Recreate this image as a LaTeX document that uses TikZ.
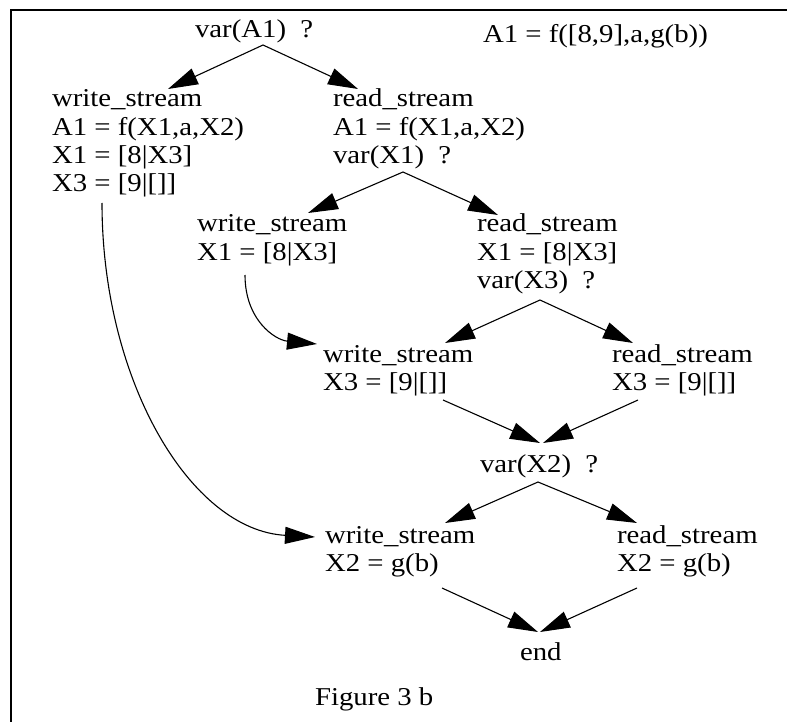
\documentclass[tikz,border=0pt]{standalone}
\usepackage{fontspec}
\setmainfont[FakeStretch=1.12]{Liberation Serif}
\usetikzlibrary{arrows.meta}
\tikzset{
  txt/.style={anchor=base west, inner sep=0pt, outer sep=0pt, font=\fontsize{25.7}{28.3}\selectfont},
  arr/.style={line width=1.1pt, -{Triangle[length=30pt,width=17pt]}},
  frame/.style={line width=2pt}
}
\newcommand{\blk}[1]{\begin{tabular}[t]{@{}l@{}}#1\end{tabular}}
\begin{document}
\begin{tikzpicture}[x=1pt,y=-1pt]
\useasboundingbox (0,0) rectangle (787,722);
\draw[frame] (10.5,722) -- (10.5,10.5) -- (787,10.5);

\node[txt] (vA1) at (195,38) {var(A1)~~?};
\node[txt] (res) at (483,43) {A1 = f([8,9],a,g(b))};
\node[txt] (ws1) at (52,107) {\blk{write\_stream\\A1 = f(X1,a,X2)\\X1 = [8|X3]\\X3 = [9|[]]}};
\node[txt] (rs1) at (333,107) {\blk{read\_stream\\A1 = f(X1,a,X2)\\var(X1)~~?}};
\node[txt] (ws2) at (197,232) {\blk{write\_stream\\X1 = [8|X3]}};
\node[txt] (rs2) at (477,232) {\blk{read\_stream\\X1 = [8|X3]\\var(X3)~~?}};
\node[txt] (ws3) at (323,362) {\blk{write\_stream\\X3 = [9|[]]}};
\node[txt] (rs3) at (612,362) {\blk{read\_stream\\X3 = [9|[]]}};
\node[txt] (vX2) at (480,472) {var(X2)~~?};
\node[txt] (ws4) at (325,543) {\blk{write\_stream\\X2 = g(b)}};
\node[txt] (rs4) at (617,543) {\blk{read\_stream\\X2 = g(b)}};
\node[txt] (endn) at (520,660) {end};
\node[txt] (fig) at (315,705) {Figure 3 b};

\draw[arr] ([shift={(68,7)}]vA1.base west) -- ([shift={(116,-18)}]ws1.base west);
\draw[arr] ([shift={(68,7)}]vA1.base west) -- ([shift={(25,-18)}]rs1.base west);
\draw[arr] ([shift={(70,65)}]rs1.base west) -- ([shift={(111,-19)}]ws2.base west);
\draw[arr] ([shift={(70,65)}]rs1.base west) -- ([shift={(21,-17)}]rs2.base west);
\draw[arr] ([shift={(63,68)}]rs2.base west) -- ([shift={(122,-19)}]ws3.base west);
\draw[arr] ([shift={(63,68)}]rs2.base west) -- ([shift={(21,-19)}]rs3.base west);
\draw[arr] ([shift={(48,43)}]ws2.base west) .. controls +(0,45) and +(-42,-4) .. ([shift={(-6,-18)}]ws3.base west);
\draw[arr] ([shift={(120,38)}]ws3.base west) -- ([shift={(60,-29)}]vX2.base west);
\draw[arr] ([shift={(26,38)}]rs3.base west) -- ([shift={(63,-29)}]vX2.base west);
\draw[arr] ([shift={(58,10)}]vX2.base west) -- ([shift={(120,-20)}]ws4.base west);
\draw[arr] ([shift={(58,10)}]vX2.base west) -- ([shift={(20,-20)}]rs4.base west);
\draw[arr] ([shift={(50,96)}]ws1.base west) .. controls +(0,177) and +(-125,-7) .. ([shift={(-10,-6)}]ws4.base west);
\draw[arr] ([shift={(117,45)}]ws4.base west) -- ([shift={(18,-28)}]endn.base west);
\draw[arr] ([shift={(20,45)}]rs4.base west) -- ([shift={(20,-28)}]endn.base west);
\end{tikzpicture}
\end{document}
